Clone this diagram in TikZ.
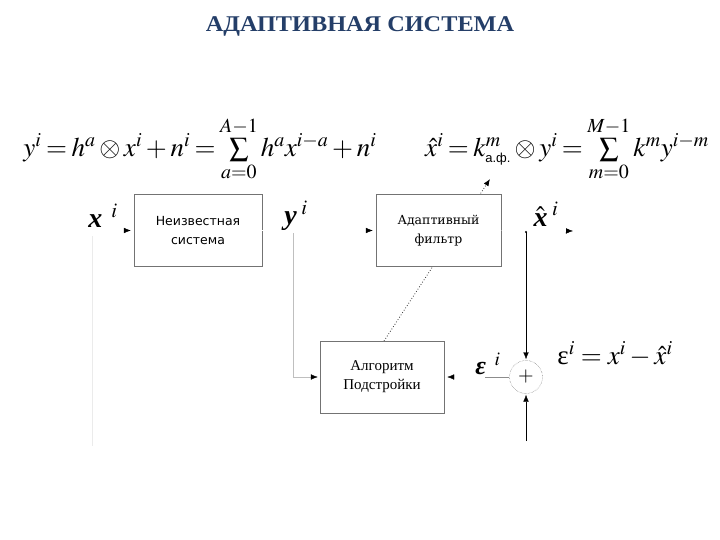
\documentclass[tikz,border=0pt]{standalone}
\usepackage{amsmath,amssymb}
\usepackage{mathptmx}
\usepackage{fontspec}
\setmainfont{Liberation Serif}
\newfontfamily\boxsans{DejaVu Sans}
\newfontfamily\boxserif{DejaVu Serif}
\newfontfamily\subsans{Liberation Sans}
\usepackage{tikz}
\usetikzlibrary{arrows.meta,calc,backgrounds}
\definecolor{titleblue}{RGB}{36,62,104}
\newcommand{\eqfont}{\fontsize{27}{27}\selectfont\thickmuskip=3mu\medmuskip=2.5mu}

\begin{document}
\begin{tikzpicture}[x=1pt,y=-1pt,
  blk/.style={draw=black!55,fill=white,minimum width=125pt,minimum height=72pt,align=center},
  tipb/.style={-{Latex[length=7pt,width=5.5pt,black]}},
  ghost/.style={tipb,draw=white,shorten >=3pt},
  sig/.style={tipb,draw=black,thin},
  feed/.style={draw=black!25,thin}]
\useasboundingbox (0,0) rectangle (720,540);
\node[font=\fontsize{22.5}{22.5}\selectfont\bfseries,text=titleblue,xscale=1.08] (title) at (360,26) {АДАПТИВНАЯ СИСТЕМА};
% formulas
\node[font=\eqfont,inner sep=0pt] (eqy) at (200,149)
  {$y^i = h^a \otimes x^i + n^i = \sum\limits_{a=0}^{A-1} h^a x^{i-a} + n^i$};
\node[font=\eqfont,inner sep=0pt] (eqx) at (567,149)
  {$\hat{x}^i = k^m_{\mbox{\subsans\fontsize{13}{13}\selectfont а.ф.}} \otimes y^i = \sum\limits_{m=0}^{M-1} k^m y^{i-m}$};
% blocks
\node[blk,minimum width=128pt,font=\boxsans\fontsize{12.5}{19}\selectfont] (unk) at (198,230.5) {Неизвестная\\система};
\node[blk,font=\boxserif\fontsize{12.5}{19}\selectfont] (filt) at (438.5,230.5) {Адаптивный\\фильтр};
\node[blk,minimum width=124pt,font=\fontsize{15}{19}\selectfont] (alg) at (382,377) {Алгоритм\\Подстройки};
\node[draw=black!70,densely dotted,circle,minimum size=33pt,inner sep=0pt,font=\fontsize{20}{20}\selectfont] (sum) at (526,377) {$+$};
% signal labels
\node[font=\fontsize{28}{28}\selectfont] (xin) at (103,216) {$\textbf{\textit{x}}^{\;\;i}$};
\node[font=\fontsize{28}{28}\selectfont] (yin) at (296,216) {$\textbf{\textit{y}}^{\;i}$};
\node[font=\fontsize{28}{28}\selectfont] (xout) at (546,214) {$\hat{\textbf{\textit{x}}}^{\;i}$};
\node[font=\fontsize{26}{26}\selectfont] (eps) at (488,364) {\textbf{\textit{ε}}$^{\;\;i}$};
\node[font=\fontsize{27}{27}\selectfont] (eqe) at (615,354) {$\text{ε}^i = x^i - \hat{x}^i$};
% connectors
\coordinate (ytap) at (293,233);
\coordinate (xtap) at (526,232);
\coordinate (xbot) at (526,441);
\coordinate (etap) at (485,377);
\coordinate (out) at (576,231);
\coordinate (adj) at (490,179);
\draw[ghost] (xin.east |- unk.west) -- (unk.west);
\draw[ghost] (unk.east) -- (filt.west);
\draw[ghost] (filt.east) -- (out);
\draw[feed,-{Latex[length=7pt,width=5.5pt,black]},shorten >=2pt] (ytap) |- (alg.west);
\draw[black!8] (92,236) -- (92,446);
\fill (xtap) circle (1.2pt);
\draw[sig,shorten >=1pt] (xtap) -- (sum.north);
\draw[sig,shorten >=1pt] (xbot) -- (sum.south);
\draw[feed,black!45] (sum.west) -- (etap);
\draw[ghost] (etap) -- (alg.east);
\begin{pgfonlayer}{background}
\draw[dotted,thick,black!80,-{Latex[length=7pt,width=5.5pt,black]}] (384,341) -- (adj);
\end{pgfonlayer}
\end{tikzpicture}
\end{document}
